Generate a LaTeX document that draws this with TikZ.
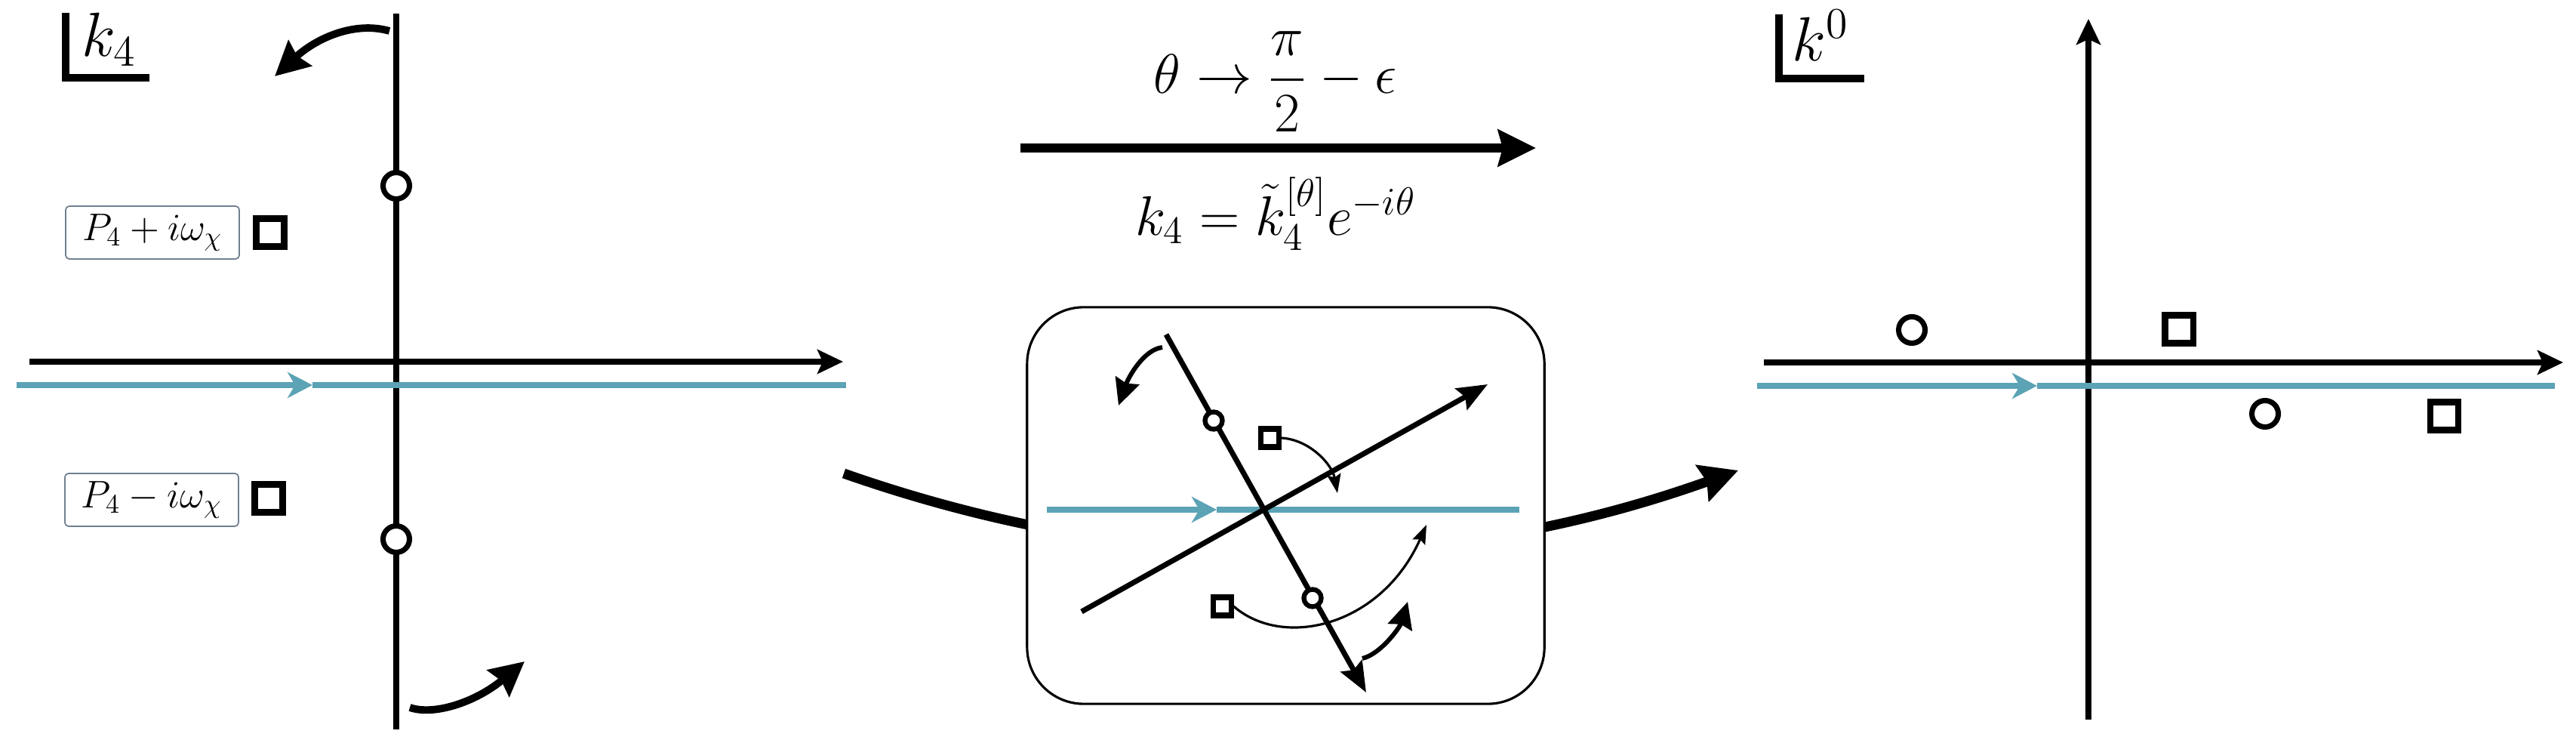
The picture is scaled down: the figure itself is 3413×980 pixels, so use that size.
\documentclass[tikz,border=0pt]{standalone}
\usepackage{fix-cm}
\usepackage{amsmath}
\usetikzlibrary{arrows.meta}
\definecolor{contour}{RGB}{91,163,181}
\definecolor{labelframe}{RGB}{112,128,144}

\begin{document}
\begin{tikzpicture}[x=0.01cm,y=-0.01cm,
  axis/.style={line width=2.1pt},
  axtip/.style={-{Stealth[length=0.34cm,width=0.32cm,inset=0.07cm]}},
  pathline/.style={contour, line width=2.2pt},
  pathtip/.style={-{Stealth[length=0.33cm,width=0.34cm,inset=0.1cm]}},
  polemark/.style={circle, draw, fill=white, line width=2pt, minimum size=0.35cm, inner sep=0pt},
  sqmark/.style={rectangle, draw, fill=white, line width=2.3pt, minimum size=0.37cm, inner sep=0pt},
  smallpole/.style={circle, draw, fill=white, line width=1.8pt, minimum size=0.23cm, inner sep=0pt},
  smallsq/.style={rectangle, draw, fill=white, line width=2pt, minimum size=0.24cm, inner sep=0pt},
  labelbox/.style={draw=labelframe, rounded corners=0.05cm, line width=0.5pt, minimum width=2.3cm, minimum height=0.7cm, inner sep=0pt, font=\fontsize{14.5}{17}\selectfont},
  planelabel/.style={anchor=base west, inner sep=0pt, font=\fontsize{23.5}{28}\selectfont},
  formula/.style={inner sep=0pt, font=\fontsize{21}{25}\selectfont},
  corner/.style={line width=2.6pt},
  turn/.style={line width=2.8pt, -{Stealth[length=0.45cm,width=0.45cm,inset=0.05cm]}},
  smallturn/.style={line width=1.7pt, -{Stealth[length=0.35cm,width=0.33cm,inset=0.04cm]}},
  thin/.style={line width=0.9pt, -{Stealth[length=0.25cm,width=0.18cm,inset=0.04cm]}}
]
\useasboundingbox (0,0) rectangle (3413,980);

% ---------- left plane: k_4 ----------
\node[planelabel] (lk) at (108,75) {$k_4$};
\draw[corner] (87,17) -- (87,103) -- (198,103);

\coordinate (lvt) at (525,18);
\coordinate (lvb) at (525,966);
\coordinate (lhl) at (39,479);
\coordinate (lhr) at (1117,479);
\coordinate (ltl) at (22,510);
\coordinate (ltm) at (414,510);
\coordinate (ltr) at (1121,510);

\draw[axis] (lvt) -- (lvb);
\draw[axis, axtip] (lhl) -- (lhr);
\draw[pathline, pathtip] (ltl) -- (ltm);
\draw[pathline] (ltm) -- (ltr);

\node[polemark] (lp1) at (525,246) {};
\node[polemark] (lp2) at (525,714) {};
\node[sqmark] (ls1) at (358,308) {};
\node[sqmark] (ls2) at (356,660) {};
\node[labelbox] (lb1) at (202,308) {$P_4+i\omega_\chi$};
\node[labelbox] (lb2) at (201,662) {$P_4-i\omega_\chi$};

\coordinate (rt0) at (516,41);
\coordinate (rt1) at (364,101);
\draw[turn] (rt0) .. controls (470,28) and (420,50) .. (rt1);
\coordinate (rb0) at (543,937);
\coordinate (rb1) at (695,876);
\draw[turn] (rb0) .. controls (575,948) and (630,930) .. (rb1);

% ---------- map between the planes ----------
\node[formula] (f1) at (1690,108) {$\displaystyle \theta\to\frac{\pi}{2}-\epsilon$};
\coordinate (ma) at (1352,196);
\coordinate (mb) at (2035,196);
\draw[line width=3.4pt, -{Stealth[length=0.5cm,width=0.48cm,inset=0.06cm]}] (ma) -- (mb);
\node[formula] (f2) at (1690,283) {$k_4=\tilde{k}_4^{[\theta]}e^{-i\theta}$};

\coordinate (ca) at (1118,627);
\coordinate (cb) at (2303,623);
\draw[line width=3.7pt, -{Stealth[length=0.5cm,width=0.5cm,inset=0.06cm]}]
  (ca) .. controls (1512,765) and (1906,765) .. (cb);

% ---------- rotated contour sketch ----------
\node[draw, fill=white, rounded corners=0.75cm, line width=0.9pt,
      minimum width=6.85cm, minimum height=5.25cm, inner sep=0pt] (panel) at (1703.5,669.5) {};

\coordinate (mo) at (1673,674);
\coordinate (mtl) at (1387,675);
\coordinate (mtm) at (1612,675);
\coordinate (mtr) at (2013,675);
\draw[pathline, pathtip] (mtl) -- (mtm);
\draw[pathline] (mtm) -- (mtr);

\coordinate (rra) at (1433,810);
\coordinate (rrb) at (1971,509);
\draw[line width=2pt, -{Stealth[length=0.4cm,width=0.32cm,inset=0.06cm]}] (rra) -- (rrb);
\coordinate (ria) at (1545,443);
\coordinate (rib) at (1810,917);
\draw[line width=2pt, -{Stealth[length=0.4cm,width=0.32cm,inset=0.06cm]}] (ria) -- (rib);

\node[smallpole] (mp1) at (1608,557) {};
\node[smallpole] (mp2) at (1739,792) {};
\node[smallsq] (ms1) at (1682,580) {};
\node[smallsq] (ms2) at (1619,803) {};

\coordinate (t1) at (1772,653);
\draw[thin] (ms1.east) .. controls (1735,582) and (1765,615) .. (t1);
\coordinate (t2) at (1890,695);
\draw[thin] (ms2.east) .. controls (1700,860) and (1830,830) .. (t2);

\coordinate (st0) at (1540,460);
\coordinate (st1) at (1482,537);
\draw[smallturn] (st0) .. controls (1515,463) and (1495,500) .. (st1);
\coordinate (sb0) at (1805,872);
\coordinate (sb1) at (1865,797);
\draw[smallturn] (sb0) .. controls (1830,866) and (1855,830) .. (sb1);

% ---------- right plane: k^0 ----------
\node[planelabel] (rk) at (2374,81) {$k^0$};
\draw[corner] (2357,19) -- (2357,104) -- (2470,104);

\coordinate (rvb) at (2767,953);
\coordinate (rvt) at (2767,25);
\coordinate (rhl) at (2337,480);
\coordinate (rhr) at (3396,480);
\coordinate (rtl) at (2328,511);
\coordinate (rtm) at (2699,511);
\coordinate (rtr) at (3385,511);

\draw[axis, axtip] (rvb) -- (rvt);
\draw[axis, axtip] (rhl) -- (rhr);
\draw[pathline, pathtip] (rtl) -- (rtm);
\draw[pathline] (rtm) -- (rtr);

\node[polemark] (rp1) at (2533,437) {};
\node[polemark] (rp2) at (3001,548) {};
\node[sqmark] (rs1) at (2887,436) {};
\node[sqmark] (rs2) at (3238,551) {};
\end{tikzpicture}
\end{document}
